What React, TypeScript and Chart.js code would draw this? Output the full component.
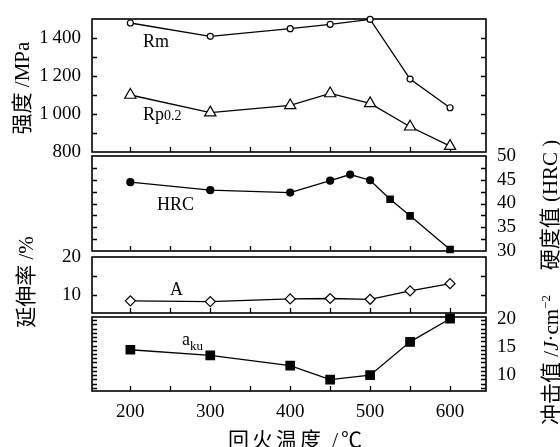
import React, { useEffect, useRef } from "react";
import { Chart, registerables } from "chart.js";

Chart.register(...registerables);

// ---------- data ----------
const temps = [200, 300, 400, 450, 500, 550, 600];
const rm = [1479, 1409, 1449, 1472, 1498, 1184, 1033];
const rp02 = [1100, 1007, 1045, 1108, 1056, 933, 831];

const hrcTemps = [200, 300, 400, 450, 475, 500, 525, 550, 600];
const hrc = [44.5, 42.8, 42.3, 44.8, 46.1, 44.9, 40.9, 37.4, 30.3];
const hrcMarkers = ["circle", "circle", "circle", "circle", "circle", "circle", "rect", "rect", "rect"];

const elong = [8.5, 8.3, 9.0, 9.1, 8.9, 11.1, 13.0];
const aku = [14.5, 13.5, 11.7, 9.2, 10.0, 15.9, 20.0];

// ---------- ticks ----------
const xTickLabels = [200, 300, 400, 500, 600];
const xMinorTicks = [200, 250, 300, 350, 400, 450, 500, 550, 600];
const strengthLabels = [800, 1000, 1200, 1400];
const strengthMinor = [900, 1000, 1100, 1200, 1300, 1400];
const hrcLabels = [30, 35, 40, 45, 50];
const hrcMinor = [32.5, 35, 37.5, 40, 42.5, 45, 47.5];
const elongLabels = [10, 20];
const elongMinor = [10, 15];
const akuLabels = [10, 15, 20];
const akuMinor = [7.75, 8.5, 9.25, 10, 10.75, 11.5, 12.25, 13, 13.75, 14.5, 15.25, 16, 16.75, 17.5, 18.25, 19, 19.75];

// ---------- layout ----------
const W = 560;
const PLOT_LEFT = 92;
const PLOT_RIGHT = 486;
const X_MIN = 152;
const X_MAX = 645;
const FONT = '"Liberation Serif", "Noto Sans CJK SC", serif';

const pts = (xs: number[], ys: number[]) => xs.map((x, i) => ({ x, y: ys[i] }));

const lineBase = {
  borderColor: "#000",
  borderWidth: 1.3,
  pointBorderColor: "#000",
  pointBorderWidth: 1.2,
  fill: false,
  tension: 0,
  clip: false as const,
};

type Seg = { text: string; size: number; dy?: number; italic?: boolean };
type Label = { x: number; y: number; segs: Seg[] };

const panels = [
  {
    top: -10, height: 190, padTop: 29, padBottom: 28, side: "left", showX: false,
    min: 800, max: 1500, labels: strengthLabels, minor: strengthMinor,
    fmt: (v: number) => (v >= 1000 ? `${Math.floor(v / 1000)}\u2009${String(v % 1000).padStart(3, "0")}` : String(v)),
    datasets: [
      { ...lineBase, label: "Rm", data: pts(temps, rm), pointStyle: "circle", pointRadius: 3, pointBackgroundColor: "#fff" },
      { ...lineBase, label: "Rp0.2", data: pts(temps, rp02), pointStyle: "triangle", pointRadius: 6.5, pointBackgroundColor: "#fff" },
    ],
    texts: [
      { x: 143, y: 47, segs: [{ text: "Rm", size: 18 }] },
      { x: 143, y: 120, segs: [{ text: "Rp", size: 18 }, { text: "0.2", size: 14 }] },
    ] as Label[],
  },
  {
    top: 126, height: 155, padTop: 30, padBottom: 30, side: "right", showX: false,
    min: 30, max: 50, labels: hrcLabels, minor: hrcMinor,
    fmt: (v: number) => String(v),
    datasets: [
      { ...lineBase, label: "HRC", data: pts(hrcTemps, hrc), pointStyle: hrcMarkers, pointRadius: hrcMarkers.map((m) => (m === "rect" ? 4.5 : 3.5)), pointBackgroundColor: "#000" },
    ],
    texts: [{ x: 157, y: 210, segs: [{ text: "HRC", size: 18 }] }] as Label[],
  },
  {
    top: 227, height: 116, padTop: 30, padBottom: 30, side: "left", showX: false,
    min: 5.3, max: 20, labels: elongLabels, minor: elongMinor,
    fmt: (v: number) => String(v),
    datasets: [
      { ...lineBase, label: "A", data: pts(temps, elong), pointStyle: "rectRot", pointRadius: 5, pointBackgroundColor: "#fff" },
    ],
    texts: [{ x: 170, y: 295, segs: [{ text: "A", size: 18 }] }] as Label[],
  },
  {
    top: 287, height: 160, padTop: 30, padBottom: 0, side: "right", showX: true,
    min: 7.2, max: 20.3, labels: akuLabels, minor: akuMinor,
    fmt: (v: number) => String(v),
    datasets: [
      { ...lineBase, label: "aku", data: pts(temps, aku), pointStyle: "rect", pointRadius: 6, pointBackgroundColor: "#000" },
    ],
    texts: [{ x: 182, y: 345, segs: [{ text: "a", size: 18 }, { text: "ku", size: 13, dy: 5 }] }] as Label[],
  },
];

const decoPlugin = {
  id: "panelDeco",
  beforeDatasetsDraw(chart: any, _args: any, opts: any) {
    const { ctx, chartArea: a } = chart;
    const xs = chart.scales.x;
    const ys = chart.scales.y;
    ctx.save();
    ctx.strokeStyle = "#000";
    ctx.lineWidth = 1.6;
    ctx.strokeRect(a.left, a.top, a.right - a.left, a.bottom - a.top);
    ctx.lineWidth = 1.3;
    ctx.beginPath();
    for (const v of opts.xTicks) {
      const px = Math.round(xs.getPixelForValue(v)) + 0.5;
      ctx.moveTo(px, a.bottom);
      ctx.lineTo(px, a.bottom - 5);
    }
    for (const v of opts.yTicks) {
      const py = Math.round(ys.getPixelForValue(v)) + 0.5;
      ctx.moveTo(a.left, py);
      ctx.lineTo(a.left + 5, py);
      ctx.moveTo(a.right, py);
      ctx.lineTo(a.right - 5, py);
    }
    ctx.stroke();
    ctx.fillStyle = "#000";
    ctx.textBaseline = "alphabetic";
    ctx.textAlign = "left";
    for (const lab of opts.texts as Label[]) {
      let x = lab.x;
      for (const s of lab.segs) {
        ctx.font = `${s.italic ? "italic " : ""}${s.size}px ${FONT}`;
        ctx.fillText(s.text, x, lab.y - opts.top + (s.dy || 0));
        x += ctx.measureText(s.text).width;
      }
    }
    ctx.restore();
  },
};

function Panel({ p }: { p: (typeof panels)[number] }) {
  const ref = useRef<HTMLCanvasElement>(null);
  useEffect(() => {
    if (!ref.current) return;
    const tickFont = { family: FONT, size: 19 };
    const chart = new Chart(ref.current, {
      type: "line",
      data: { datasets: p.datasets as any },
      options: {
        animation: false,
        responsive: false,
        maintainAspectRatio: false,
        layout: {
          padding: {
            top: p.padTop,
            bottom: p.padBottom,
            left: p.side === "right" ? PLOT_LEFT : 0,
            right: p.side === "left" ? W - PLOT_RIGHT : 0,
          },
        },
        plugins: {
          legend: { display: false },
          tooltip: { enabled: false },
          panelDeco: { xTicks: xMinorTicks, yTicks: p.minor, texts: p.texts, top: p.top },
        } as any,
        scales: {
          x: {
            type: "linear",
            min: X_MIN,
            max: X_MAX,
            display: p.showX,
            afterBuildTicks: (s: any) => {
              s.ticks = xTickLabels.map((v) => ({ value: v }));
            },
            afterFit: (s: any) => {
              s.height = p.showX ? 56 : 0;
            },
            grid: { display: false, drawTicks: false },
            border: { display: false },
            ticks: {
              font: tickFont,
              color: "#000",
              padding: 10,
              autoSkip: false,
              maxRotation: 0,
              callback: (v: any) => String(v),
            },
          },
          y: {
            type: "linear",
            position: p.side as any,
            min: p.min,
            max: p.max,
            afterBuildTicks: (s: any) => {
              s.ticks = p.labels.map((v) => ({ value: v }));
            },
            afterFit: (s: any) => {
              s.width = p.side === "left" ? PLOT_LEFT : W - PLOT_RIGHT;
            },
            grid: { display: false, drawTicks: false },
            border: { display: false },
            ticks: {
              font: tickFont,
              color: "#000",
              padding: 11,
              autoSkip: false,
              callback: (v: any) => p.fmt(Number(v)),
            },
          },
        },
      },
      plugins: [decoPlugin],
    });
    return () => chart.destroy();
  }, [p]);
  return (
    <canvas
      ref={ref}
      width={W}
      height={p.height}
      style={{ position: "absolute", left: 0, top: p.top, width: W, height: p.height }}
    />
  );
}

const vTitle = (cx: number, cy: number): React.CSSProperties => ({
  position: "absolute",
  left: cx,
  top: cy,
  transform: "translate(-50%, -50%) rotate(-90deg)",
  whiteSpace: "nowrap",
  fontFamily: FONT,
  fontSize: 21,
  lineHeight: 1,
  color: "#000",
});

export default function App() {
  return (
    <div
      style={{
        position: "absolute",
        left: 0,
        top: 0,
        width: W,
        height: 447,
        background: "#fff",
        overflow: "hidden",
      }}
    >
      {panels.map((p, i) => (
        <Panel key={i} p={p} />
      ))}
      <div style={vTitle(22, 88)}>强度 /MPa</div>
      <div style={vTitle(26, 282)}>延伸率 /%</div>
      <div style={vTitle(550, 205)}>硬度值 (HRC )</div>
      <div style={vTitle(550, 360)}>
        冲击值 /<i>J</i>·cm<sup style={{ fontSize: 13 }}>−2</sup>
      </div>
      <div
        style={{
          position: "absolute",
          left: 228,
          top: 430,
          whiteSpace: "nowrap",
          fontFamily: FONT,
          fontSize: 21,
          lineHeight: 1,
          letterSpacing: 3,
          color: "#000",
        }}
      >
        回火温度 /℃
      </div>
    </div>
  );
}
